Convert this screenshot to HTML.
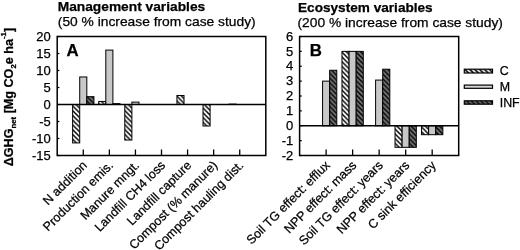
<!DOCTYPE html><html><head><meta charset="utf-8"><style>html,body{margin:0;padding:0;background:#fff;width:520px;height:250px;overflow:hidden}svg{display:block;filter:grayscale(1)}</style></head><body><svg width="520" height="250" viewBox="0 0 520 250">
<defs>
<pattern id="hC" patternUnits="userSpaceOnUse" width="4.75" height="4.75">
<rect width="4.75" height="4.75" fill="#fff"/>
<path d="M-1,-1 L5.75,5.75 M-1,3.75 L1,5.75 M3.75,-1 L5.75,1" stroke="#000" stroke-width="1.45"/>
</pattern>
<pattern id="hI" patternUnits="userSpaceOnUse" width="4.75" height="4.75">
<rect width="4.75" height="4.75" fill="#767676"/>
<path d="M-1,-1 L5.75,5.75 M-1,3.75 L1,5.75 M3.75,-1 L5.75,1" stroke="#000" stroke-width="1.45"/>
</pattern>
<pattern id="hCL" patternUnits="userSpaceOnUse" width="4.9" height="4.9" patternTransform="translate(3.55,0)">
<rect width="4.9" height="4.9" fill="#fff"/>
<path d="M-1,-1 L5.9,5.9 M-1,3.9 L1,5.9 M3.9,-1 L5.9,1" stroke="#000" stroke-width="1.7"/>
</pattern>
</defs>
<rect width="520" height="250" fill="#fff"/>
<text x="57.7" y="10.6" font-family="&quot;Liberation Sans&quot;, sans-serif" stroke="#000" stroke-width="0.25" font-size="13.0" font-weight="bold" textLength="147.5" lengthAdjust="spacingAndGlyphs">Management variables</text>
<text x="57.8" y="25.5" font-family="&quot;Liberation Sans&quot;, sans-serif" stroke="#000" stroke-width="0.25" font-size="13.0" textLength="197.9" lengthAdjust="spacingAndGlyphs">(50 % increase from case study)</text>
<text x="298" y="11.5" font-family="&quot;Liberation Sans&quot;, sans-serif" stroke="#000" stroke-width="0.25" font-size="13.0" font-weight="bold" textLength="134.7" lengthAdjust="spacingAndGlyphs">Ecosystem variables</text>
<text x="297.5" y="26.7" font-family="&quot;Liberation Sans&quot;, sans-serif" stroke="#000" stroke-width="0.25" font-size="13.0" textLength="205.4" lengthAdjust="spacingAndGlyphs">(200 % increase from case study)</text>
<rect x="72.62" y="104.50" width="7.10" height="38.42" fill="url(#hC)" stroke="#000" stroke-width="1"/>
<rect x="79.72" y="76.96" width="7.10" height="27.54" fill="#c8c8c8" stroke="#000" stroke-width="1"/>
<rect x="86.83" y="96.68" width="7.10" height="7.82" fill="url(#hI)" stroke="#000" stroke-width="1"/>
<rect x="98.70" y="101.44" width="7.10" height="3.06" fill="url(#hC)" stroke="#000" stroke-width="1"/>
<rect x="105.80" y="50.10" width="7.10" height="54.40" fill="#c8c8c8" stroke="#000" stroke-width="1"/>
<rect x="112.90" y="103.65" width="7.10" height="0.85" fill="url(#hI)" stroke="#000" stroke-width="1"/>
<rect x="124.78" y="104.50" width="7.10" height="35.53" fill="url(#hC)" stroke="#000" stroke-width="1"/>
<rect x="131.88" y="102.12" width="7.10" height="2.38" fill="#c8c8c8" stroke="#000" stroke-width="1"/>
<rect x="176.92" y="95.49" width="7.10" height="9.01" fill="url(#hC)" stroke="#000" stroke-width="1"/>
<rect x="203.00" y="104.50" width="7.10" height="21.49" fill="url(#hC)" stroke="#000" stroke-width="1"/>
<rect x="229.08" y="104.09" width="7.10" height="0.41" fill="url(#hC)" stroke="#000" stroke-width="1"/>
<line x1="57.2" y1="104.50" x2="265.8" y2="104.50" stroke="#000" stroke-width="1.5"/>
<rect x="57.2" y="36.5" width="208.60" height="119.0" fill="none" stroke="#000" stroke-width="1.5"/>
<line x1="57.2" y1="36.50" x2="59.400000000000006" y2="36.50" stroke="#000" stroke-width="1.2"/>
<text x="50.800000000000004" y="40.70" font-family="&quot;Liberation Sans&quot;, sans-serif" stroke="#000" stroke-width="0.25" font-size="13" text-anchor="end">20</text>
<line x1="57.2" y1="53.50" x2="59.400000000000006" y2="53.50" stroke="#000" stroke-width="1.2"/>
<text x="50.800000000000004" y="57.70" font-family="&quot;Liberation Sans&quot;, sans-serif" stroke="#000" stroke-width="0.25" font-size="13" text-anchor="end">15</text>
<line x1="57.2" y1="70.50" x2="59.400000000000006" y2="70.50" stroke="#000" stroke-width="1.2"/>
<text x="50.800000000000004" y="74.70" font-family="&quot;Liberation Sans&quot;, sans-serif" stroke="#000" stroke-width="0.25" font-size="13" text-anchor="end">10</text>
<line x1="57.2" y1="87.50" x2="59.400000000000006" y2="87.50" stroke="#000" stroke-width="1.2"/>
<text x="50.800000000000004" y="91.70" font-family="&quot;Liberation Sans&quot;, sans-serif" stroke="#000" stroke-width="0.25" font-size="13" text-anchor="end">5</text>
<line x1="57.2" y1="104.50" x2="59.400000000000006" y2="104.50" stroke="#000" stroke-width="1.2"/>
<text x="50.800000000000004" y="108.70" font-family="&quot;Liberation Sans&quot;, sans-serif" stroke="#000" stroke-width="0.25" font-size="13" text-anchor="end">0</text>
<line x1="57.2" y1="121.50" x2="59.400000000000006" y2="121.50" stroke="#000" stroke-width="1.2"/>
<text x="50.800000000000004" y="125.70" font-family="&quot;Liberation Sans&quot;, sans-serif" stroke="#000" stroke-width="0.25" font-size="13" text-anchor="end">-5</text>
<line x1="57.2" y1="138.50" x2="59.400000000000006" y2="138.50" stroke="#000" stroke-width="1.2"/>
<text x="50.800000000000004" y="142.70" font-family="&quot;Liberation Sans&quot;, sans-serif" stroke="#000" stroke-width="0.25" font-size="13" text-anchor="end">-10</text>
<line x1="57.2" y1="155.50" x2="59.400000000000006" y2="155.50" stroke="#000" stroke-width="1.2"/>
<text x="50.800000000000004" y="159.70" font-family="&quot;Liberation Sans&quot;, sans-serif" stroke="#000" stroke-width="0.25" font-size="13" text-anchor="end">-15</text>
<line x1="83.28" y1="155.5" x2="83.28" y2="149.5" stroke="#000" stroke-width="1.3"/>
<text transform="translate(87.78,166.0) rotate(-45)" font-family="&quot;Liberation Sans&quot;, sans-serif" stroke="#000" stroke-width="0.25" font-size="12.5" text-anchor="end">N addition</text>
<line x1="109.35" y1="155.5" x2="109.35" y2="149.5" stroke="#000" stroke-width="1.3"/>
<text transform="translate(113.85,166.0) rotate(-45)" font-family="&quot;Liberation Sans&quot;, sans-serif" stroke="#000" stroke-width="0.25" font-size="12.5" text-anchor="end">Production emis.</text>
<line x1="135.43" y1="155.5" x2="135.43" y2="149.5" stroke="#000" stroke-width="1.3"/>
<text transform="translate(139.93,166.0) rotate(-45)" font-family="&quot;Liberation Sans&quot;, sans-serif" stroke="#000" stroke-width="0.25" font-size="12.5" text-anchor="end">Manure mngt.</text>
<line x1="161.50" y1="155.5" x2="161.50" y2="149.5" stroke="#000" stroke-width="1.3"/>
<text transform="translate(166.00,166.0) rotate(-45)" font-family="&quot;Liberation Sans&quot;, sans-serif" stroke="#000" stroke-width="0.25" font-size="12.5" text-anchor="end">Landfill CH4 loss</text>
<line x1="187.57" y1="155.5" x2="187.57" y2="149.5" stroke="#000" stroke-width="1.3"/>
<text transform="translate(192.07,166.0) rotate(-45)" font-family="&quot;Liberation Sans&quot;, sans-serif" stroke="#000" stroke-width="0.25" font-size="12.5" text-anchor="end">Landfill capture</text>
<line x1="213.65" y1="155.5" x2="213.65" y2="149.5" stroke="#000" stroke-width="1.3"/>
<text transform="translate(218.15,166.0) rotate(-45)" font-family="&quot;Liberation Sans&quot;, sans-serif" stroke="#000" stroke-width="0.25" font-size="12.5" text-anchor="end">Compost (% manure)</text>
<line x1="239.73" y1="155.5" x2="239.73" y2="149.5" stroke="#000" stroke-width="1.3"/>
<text transform="translate(244.23,166.0) rotate(-45)" font-family="&quot;Liberation Sans&quot;, sans-serif" stroke="#000" stroke-width="0.25" font-size="12.5" text-anchor="end">Compost hauling dist.</text>
<text x="66.5" y="55.6" font-family="&quot;Liberation Sans&quot;, sans-serif" stroke="#000" stroke-width="0.25" font-size="16.8" font-weight="bold">A</text>
<rect x="322.57" y="81.12" width="7.10" height="44.62" fill="#c8c8c8" stroke="#000" stroke-width="1"/>
<rect x="329.67" y="70.27" width="7.10" height="55.48" fill="url(#hI)" stroke="#000" stroke-width="1"/>
<rect x="341.98" y="51.38" width="7.10" height="74.38" fill="url(#hC)" stroke="#000" stroke-width="1"/>
<rect x="349.08" y="51.38" width="7.10" height="74.38" fill="#c8c8c8" stroke="#000" stroke-width="1"/>
<rect x="356.18" y="51.38" width="7.10" height="74.38" fill="url(#hI)" stroke="#000" stroke-width="1"/>
<rect x="375.60" y="80.08" width="7.10" height="45.67" fill="#c8c8c8" stroke="#000" stroke-width="1"/>
<rect x="382.70" y="69.22" width="7.10" height="56.53" fill="url(#hI)" stroke="#000" stroke-width="1"/>
<rect x="395.02" y="125.75" width="7.10" height="21.57" fill="url(#hC)" stroke="#000" stroke-width="1"/>
<rect x="402.12" y="125.75" width="7.10" height="21.57" fill="#c8c8c8" stroke="#000" stroke-width="1"/>
<rect x="409.22" y="125.75" width="7.10" height="21.57" fill="url(#hI)" stroke="#000" stroke-width="1"/>
<rect x="421.53" y="125.75" width="7.10" height="8.93" fill="url(#hC)" stroke="#000" stroke-width="1"/>
<rect x="428.63" y="125.75" width="7.10" height="8.93" fill="#c8c8c8" stroke="#000" stroke-width="1"/>
<rect x="435.73" y="125.75" width="7.10" height="8.93" fill="url(#hI)" stroke="#000" stroke-width="1"/>
<line x1="299.6" y1="125.75" x2="458.7" y2="125.75" stroke="#000" stroke-width="1.5"/>
<rect x="299.6" y="36.5" width="159.10" height="119.0" fill="none" stroke="#000" stroke-width="1.5"/>
<line x1="299.6" y1="36.50" x2="301.8" y2="36.50" stroke="#000" stroke-width="1.2"/>
<text x="293.20000000000005" y="40.70" font-family="&quot;Liberation Sans&quot;, sans-serif" stroke="#000" stroke-width="0.25" font-size="13" text-anchor="end">6</text>
<line x1="299.6" y1="51.38" x2="301.8" y2="51.38" stroke="#000" stroke-width="1.2"/>
<text x="293.20000000000005" y="55.58" font-family="&quot;Liberation Sans&quot;, sans-serif" stroke="#000" stroke-width="0.25" font-size="13" text-anchor="end">5</text>
<line x1="299.6" y1="66.25" x2="301.8" y2="66.25" stroke="#000" stroke-width="1.2"/>
<text x="293.20000000000005" y="70.45" font-family="&quot;Liberation Sans&quot;, sans-serif" stroke="#000" stroke-width="0.25" font-size="13" text-anchor="end">4</text>
<line x1="299.6" y1="81.12" x2="301.8" y2="81.12" stroke="#000" stroke-width="1.2"/>
<text x="293.20000000000005" y="85.33" font-family="&quot;Liberation Sans&quot;, sans-serif" stroke="#000" stroke-width="0.25" font-size="13" text-anchor="end">3</text>
<line x1="299.6" y1="96.00" x2="301.8" y2="96.00" stroke="#000" stroke-width="1.2"/>
<text x="293.20000000000005" y="100.20" font-family="&quot;Liberation Sans&quot;, sans-serif" stroke="#000" stroke-width="0.25" font-size="13" text-anchor="end">2</text>
<line x1="299.6" y1="110.88" x2="301.8" y2="110.88" stroke="#000" stroke-width="1.2"/>
<text x="293.20000000000005" y="115.08" font-family="&quot;Liberation Sans&quot;, sans-serif" stroke="#000" stroke-width="0.25" font-size="13" text-anchor="end">1</text>
<line x1="299.6" y1="125.75" x2="301.8" y2="125.75" stroke="#000" stroke-width="1.2"/>
<text x="293.20000000000005" y="129.95" font-family="&quot;Liberation Sans&quot;, sans-serif" stroke="#000" stroke-width="0.25" font-size="13" text-anchor="end">0</text>
<line x1="299.6" y1="140.62" x2="301.8" y2="140.62" stroke="#000" stroke-width="1.2"/>
<text x="293.20000000000005" y="144.82" font-family="&quot;Liberation Sans&quot;, sans-serif" stroke="#000" stroke-width="0.25" font-size="13" text-anchor="end">-1</text>
<line x1="299.6" y1="155.50" x2="301.8" y2="155.50" stroke="#000" stroke-width="1.2"/>
<text x="293.20000000000005" y="159.70" font-family="&quot;Liberation Sans&quot;, sans-serif" stroke="#000" stroke-width="0.25" font-size="13" text-anchor="end">-2</text>
<line x1="326.12" y1="155.5" x2="326.12" y2="149.5" stroke="#000" stroke-width="1.3"/>
<text transform="translate(330.62,166.0) rotate(-45)" font-family="&quot;Liberation Sans&quot;, sans-serif" stroke="#000" stroke-width="0.25" font-size="12.5" text-anchor="end">Soil TG effect: efflux</text>
<line x1="352.63" y1="155.5" x2="352.63" y2="149.5" stroke="#000" stroke-width="1.3"/>
<text transform="translate(357.13,166.0) rotate(-45)" font-family="&quot;Liberation Sans&quot;, sans-serif" stroke="#000" stroke-width="0.25" font-size="12.5" text-anchor="end">NPP effect: mass</text>
<line x1="379.15" y1="155.5" x2="379.15" y2="149.5" stroke="#000" stroke-width="1.3"/>
<text transform="translate(383.65,166.0) rotate(-45)" font-family="&quot;Liberation Sans&quot;, sans-serif" stroke="#000" stroke-width="0.25" font-size="12.5" text-anchor="end">Soil TG effect: years</text>
<line x1="405.67" y1="155.5" x2="405.67" y2="149.5" stroke="#000" stroke-width="1.3"/>
<text transform="translate(410.17,166.0) rotate(-45)" font-family="&quot;Liberation Sans&quot;, sans-serif" stroke="#000" stroke-width="0.25" font-size="12.5" text-anchor="end">NPP effect: years</text>
<line x1="432.18" y1="155.5" x2="432.18" y2="149.5" stroke="#000" stroke-width="1.3"/>
<text transform="translate(436.68,166.0) rotate(-45)" font-family="&quot;Liberation Sans&quot;, sans-serif" stroke="#000" stroke-width="0.25" font-size="12.5" text-anchor="end">C sink efficiency</text>
<text x="309.8" y="55.6" font-family="&quot;Liberation Sans&quot;, sans-serif" stroke="#000" stroke-width="0.25" font-size="16.8" font-weight="bold">B</text>
<rect x="464.3" y="69.19999999999999" width="28.2" height="3.8" fill="url(#hCL)" stroke="#000" stroke-width="1.2"/>
<text x="499.7" y="75.1" font-family="&quot;Liberation Sans&quot;, sans-serif" stroke="#000" stroke-width="0.25" font-size="12.4">C</text>
<rect x="464.3" y="85.1" width="28.2" height="3.2" fill="#d8d8d8" stroke="#000" stroke-width="1.2"/>
<text x="499.7" y="91.0" font-family="&quot;Liberation Sans&quot;, sans-serif" stroke="#000" stroke-width="0.25" font-size="12.4">M</text>
<rect x="464.3" y="100.8" width="28.2" height="3.4" fill="url(#hI)" stroke="#000" stroke-width="1.2"/>
<text x="499.7" y="106.7" font-family="&quot;Liberation Sans&quot;, sans-serif" stroke="#000" stroke-width="0.25" font-size="12.4">INF</text>
<text transform="translate(13.2,166.3) rotate(-90)" font-family="&quot;Liberation Sans&quot;, sans-serif" stroke="#000" stroke-width="0.25" font-size="12.6" font-weight="bold">&#916;GHG<tspan font-size="7.8" dy="3">net</tspan><tspan dy="-3"> [Mg CO</tspan><tspan font-size="7.8" dy="3">2</tspan><tspan dy="-3">e ha</tspan><tspan font-size="7.8" dy="-7">-1</tspan><tspan dy="7">]</tspan></text>
</svg></body></html>
